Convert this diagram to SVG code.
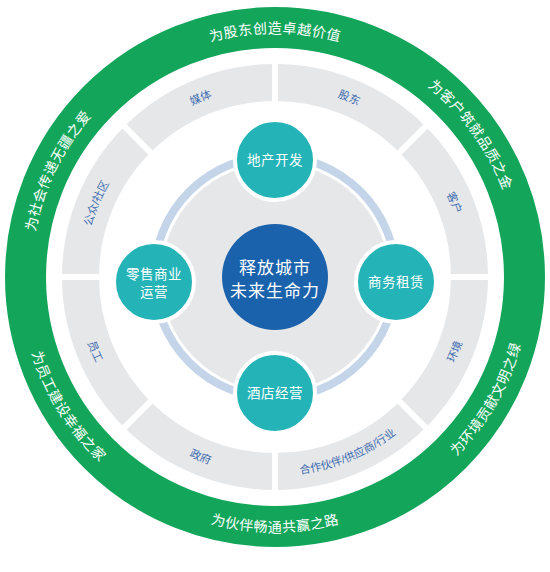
<svg xmlns="http://www.w3.org/2000/svg" width="550" height="572" viewBox="0 0 550 572">
<style>
.ring{fill:none;stroke:#13a65b;stroke-width:41}
.seg{fill:none;stroke:#e6e7e9;stroke-width:37}
.gap{stroke:#ffffff;stroke-width:6}
.gt{font-family:"Liberation Sans","Noto Sans CJK SC",sans-serif;font-size:14px;fill:#ffffff;letter-spacing:0.5px}
.lt{font-family:"Liberation Sans","Noto Sans CJK SC",sans-serif;font-size:11px;fill:#3d6cb0}
.teal{fill:#24b4b7;stroke:#ffffff;stroke-width:4}
.tt{font-family:"Liberation Sans","Noto Sans CJK SC",sans-serif;font-size:13.5px;fill:#ffffff;text-anchor:middle;letter-spacing:0.5px}
.ct{font-family:"Liberation Sans","Noto Sans CJK SC",sans-serif;font-size:17px;fill:#ffffff;text-anchor:middle;letter-spacing:1px}
</style>
<defs>
<path id="pTop" d="M102.5,104.5 A244,244 0 0,1 447.5,104.5"/>
<path id="pUR" d="M313.2,36 A244,244 0 0,1 516,315.2"/>
<path id="pUL" d="M44.3,356.4 A244,244 0 0,1 195.6,46.3"/>
<path id="pBot" d="M94.7,457.3 A255,255 0 0,0 455.3,457.3"/>
<path id="pLR" d="M341,523.3 A255,255 0 0,0 521.3,211"/>
<path id="pLL" d="M26.5,219.6 A255,255 0 0,0 217.6,525.5"/>
<path id="sGZ" d="M86.1,301.9 A190.5,190.5 0 0,1 159,125.9"/>
<path id="sMT" d="M123.9,161 A190.5,190.5 0 0,1 299.9,88.1"/>
<path id="sGD" d="M250.1,88.1 A190.5,190.5 0 0,1 426.1,161"/>
<path id="sKH" d="M391,125.9 A190.5,190.5 0 0,1 463.9,301.9"/>
<path id="sHJ" d="M395.8,434.5 A198.5,198.5 0 0,0 471.8,251.1"/>
<path id="sHZ" d="M249.1,473.8 A198.5,198.5 0 0,0 432.5,397.8"/>
<path id="sZF" d="M117.5,397.8 A198.5,198.5 0 0,0 300.9,473.8"/>
<path id="sYG" d="M78.2,251.1 A198.5,198.5 0 0,0 154.2,434.5"/>
</defs>
<rect width="550" height="572" fill="#ffffff"/>
<g id="outer-ring">
<circle class="ring" cx="275" cy="277" r="249.5"/>
<text class="gt" text-anchor="middle"><textPath href="#pTop" startOffset="50%">为股东创造卓越价值</textPath></text>
<text class="gt" text-anchor="middle"><textPath href="#pUR" startOffset="50%">为客户筑就品质之金</textPath></text>
<text class="gt" text-anchor="middle"><textPath href="#pLR" startOffset="50%">为环境贡献文明之绿</textPath></text>
<text class="gt" text-anchor="middle"><textPath href="#pBot" startOffset="50%">为伙伴畅通共赢之路</textPath></text>
<text class="gt" text-anchor="middle"><textPath href="#pLL" startOffset="50%">为员工建设幸福之家</textPath></text>
<text class="gt" text-anchor="middle"><textPath href="#pUL" startOffset="50%">为社会传递无疆之爱</textPath></text>
</g>
<g id="stakeholder-ring">
<circle class="seg" cx="275" cy="277" r="194.5"/>
<line class="gap" x1="445" y1="277" x2="495" y2="277"/>
<line class="gap" x1="395.2" y1="397.2" x2="430.6" y2="432.6"/>
<line class="gap" x1="275" y1="447" x2="275" y2="497"/>
<line class="gap" x1="154.8" y1="397.2" x2="119.4" y2="432.6"/>
<line class="gap" x1="105" y1="277" x2="55" y2="277"/>
<line class="gap" x1="154.8" y1="156.8" x2="119.4" y2="121.4"/>
<line class="gap" x1="275" y1="107" x2="275" y2="57"/>
<line class="gap" x1="395.2" y1="156.8" x2="430.6" y2="121.4"/>
<text class="lt" text-anchor="middle"><textPath href="#sGZ" startOffset="50%">公众/社区</textPath></text>
<text class="lt" text-anchor="middle"><textPath href="#sMT" startOffset="50%">媒体</textPath></text>
<text class="lt" text-anchor="middle"><textPath href="#sGD" startOffset="50%">股东</textPath></text>
<text class="lt" text-anchor="middle"><textPath href="#sKH" startOffset="50%">客户</textPath></text>
<text class="lt" text-anchor="middle"><textPath href="#sHJ" startOffset="50%">环境</textPath></text>
<text class="lt" text-anchor="middle"><textPath href="#sHZ" startOffset="50%">合作伙伴/供应商/行业</textPath></text>
<text class="lt" text-anchor="middle"><textPath href="#sZF" startOffset="50%">政府</textPath></text>
<text class="lt" text-anchor="middle"><textPath href="#sYG" startOffset="50%">员工</textPath></text>
</g>
<g id="inner-disc">
<circle cx="275" cy="277" r="121" fill="none" stroke="#c4d5ea" stroke-width="8"/>
<circle cx="275" cy="277" r="114" fill="#e6e7e9"/>
</g>
<g id="connectors"></g>
<g id="node-center">
<circle cx="275" cy="277" r="53" fill="#1b62ad"/>
<text class="ct" x="275" y="274">释放城市</text>
<text class="ct" x="275" y="297">未来生命力</text>
</g>
<g id="node-property">
<circle class="teal" cx="275" cy="160" r="40"/>
<text class="tt" x="275" y="165">地产开发</text>
</g>
<g id="node-leasing">
<circle class="teal" cx="396" cy="282" r="40"/>
<text class="tt" x="396" y="287">商务租赁</text>
</g>
<g id="node-hotel">
<circle class="teal" cx="275" cy="393" r="40"/>
<text class="tt" x="275" y="398">酒店经营</text>
</g>
<g id="node-retail">
<circle class="teal" cx="154" cy="282" r="40"/>
<text class="tt" x="154" y="279">零售商业</text>
<text class="tt" x="154" y="297">运营</text>
</g>
</svg>
